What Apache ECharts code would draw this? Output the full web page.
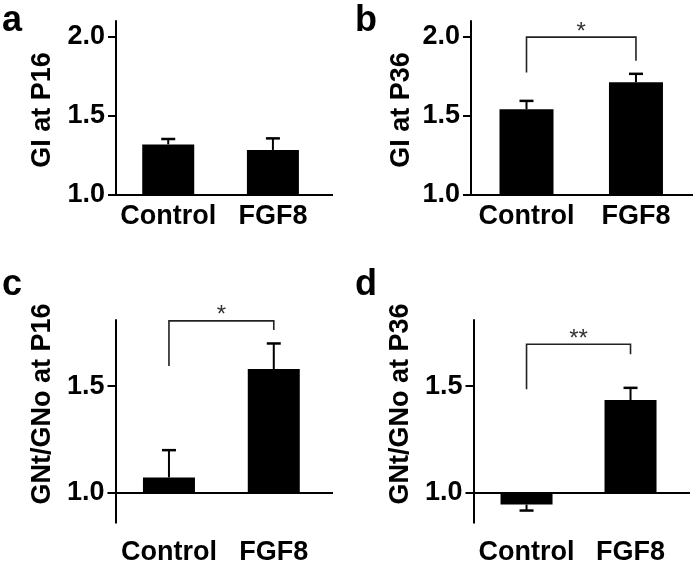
<!DOCTYPE html>
<html>
<head>
<meta charset="utf-8">
<script src="https://cdn.jsdelivr.net/npm/echarts@6/dist/echarts.min.js"></script>
<style>
html,body{margin:0;padding:0;background:#fff;}
#chart{width:697px;height:566px;}
</style>
</head>
<body>
<div id="chart"></div>
<script>
// ---- data ----
const categories = ['Control', 'FGF8'];
const giP16 = [1.32, 1.285];
const giP16Err = [0.034, 0.073];
const giP36 = [1.542, 1.713];
const giP36Err = [0.053, 0.053];
const gnP16 = [1.072, 1.58];
const gnP16Err = [0.128, 0.12];
const gnP36 = [0.945, 1.435];
const gnP36Err = [0.028, 0.057];
const ticksGI = [1.0, 1.5, 2.0];
const ticksGN = [1.0, 1.5];
// bracket: [control end, FGF8 end, top]
const bracketB = [1.774, 1.848, 1.998];
const bracketC = [1.594, 1.763, 1.806];
const bracketD = [1.485, 1.649, 1.696];
const starsB = '*';
const starsC = '*';
const starsD = '**';
const BASE = 1.0;

const FONT = '"Liberation Sans", Arial, Helvetica, sans-serif';
const FS = 27;

const panels = [
  {letter:'a', title:'GI at P16', vals:giP16, errs:giP16Err, ticks:ticksGI, ymin:1.0, ymax:2.1,
   grid:{left:116, top:21, width:217, height:174}, xmin:-0.499, xmax:1.574, bw:52, bracket:null,
   lx:2, ly:3, tx:43, ty:110, labelMargin:8},
  {letter:'b', title:'GI at P36', vals:giP36, errs:giP36Err, ticks:ticksGI, ymin:1.0, ymax:2.1,
   grid:{left:471, top:21, width:222, height:174}, xmin:-0.507, xmax:1.521, bw:54, bracket:bracketB, stars:starsB,
   lx:355, ly:3, tx:402, ty:110, labelMargin:8},
  {letter:'c', title:'GNt/GNo at P16', vals:gnP16, errs:gnP16Err, ticks:ticksGN, ymin:0.86, ymax:1.81,
   grid:{left:115.5, top:320, width:217.5, height:202.7}, xmin:-0.51, xmax:1.565, bw:52, bracket:bracketC, stars:starsC,
   lx:2, ly:267, tx:43, ty:404, labelMargin:16},
  {letter:'d', title:'GNt/GNo at P36', vals:gnP36, errs:gnP36Err, ticks:ticksGN, ymin:0.86, ymax:1.81,
   grid:{left:473.5, top:320, width:216.5, height:202.7}, xmin:-0.51, xmax:1.572, bw:52, bracket:bracketD, stars:starsD,
   lx:355, ly:267, tx:401, ty:404, labelMargin:16}
];

const grids = [], xAxes = [], yAxes = [], series = [], graphics = [];

panels.forEach(function (p, k) {
  grids.push(Object.assign({containLabel:false}, p.grid));
  xAxes.push({
    type:'value', gridIndex:k, min:p.xmin, max:p.xmax,
    axisLine:{show:false, onZero:false}, axisTick:{show:false}, splitLine:{show:false},
    axisLabel:{
      customValues:[0, 1],
      formatter:function (v) { return categories[Math.round(v)]; },
      color:'#000', fontFamily:FONT, fontWeight:'bold', fontSize:FS, margin:p.labelMargin
    }
  });
  yAxes.push({
    type:'value', gridIndex:k, min:p.ymin, max:p.ymax, position:'left',
    axisLine:{show:true, onZero:false, lineStyle:{color:'#000', width:2}},
    axisTick:{show:true, customValues:p.ticks, length:8, lineStyle:{color:'#000', width:2}},
    splitLine:{show:false},
    axisLabel:{
      customValues:p.ticks,
      formatter:function (v) { return v.toFixed(1); },
      color:'#000', fontFamily:FONT, fontWeight:'bold', fontSize:FS, margin:11
    }
  });
  const bw = p.bw;
  series.push({
    type:'custom', xAxisIndex:k, yAxisIndex:k, silent:true, animation:false,
    data: categories.map(function (c, i) { return [i, p.vals[i], p.errs[i]]; }),
    renderItem: function (params, api) {
      const i = api.value(0), v = api.value(1), e = api.value(2);
      const p0 = api.coord([i, BASE]);
      const p1 = api.coord([i, v]);
      const dir = v >= BASE ? 1 : -1;
      const pe = api.coord([i, v + dir * e]);
      return {
        type:'group',
        children:[
          {type:'line', shape:{x1:p1[0], y1:p1[1], x2:pe[0], y2:pe[1]}, style:{stroke:'#000', lineWidth:2}},
          {type:'line', shape:{x1:pe[0]-7, y1:pe[1], x2:pe[0]+7, y2:pe[1]}, style:{stroke:'#000', lineWidth:2.5}},
          {type:'rect', shape:{x:p0[0]-bw/2, y:Math.min(p0[1], p1[1]), width:bw, height:Math.abs(p1[1]-p0[1])},
           style:{fill:'#000'}}
        ]
      };
    },
    markLine:{
      silent:true, symbol:'none', animation:false,
      label:{show:false},
      lineStyle:{color:'#000', width:2, type:'solid'},
      data:[{yAxis:BASE}]
    },
    z:2
  });
  if (p.bracket) {
    const br = p.bracket, stars = p.stars;
    series.push({
      type:'custom', xAxisIndex:k, yAxisIndex:k, silent:true, animation:false,
      data:[[0, br[0], 1, br[1], br[2]]],
      renderItem: function (params, api) {
        const a0 = api.coord([api.value(0), api.value(1)]);
        const a1 = api.coord([api.value(0), api.value(4)]);
        const b1 = api.coord([api.value(2), api.value(4)]);
        const b0 = api.coord([api.value(2), api.value(3)]);
        return {
          type:'group',
          children:[
            {type:'polyline', shape:{points:[a0, a1, b1, b0]}, style:{stroke:'#222', lineWidth:1.6, fill:null}},
            {type:'text', x:(a1[0]+b1[0])/2, y:a1[1]-5,
             style:{text:stars, fill:'#333', font:'normal 24px ' + FONT, align:'center', verticalAlign:'middle'}}
          ]
        };
      },
      z:3
    });
  }
  graphics.push({type:'text', left:p.lx, top:p.ly,
    style:{text:p.letter, fill:'#000', font:'bold 36px ' + FONT}});
  graphics.push({type:'text', x:p.tx, y:p.ty, rotation:Math.PI/2,
    style:{text:p.title, fill:'#000', font:'bold 27px ' + FONT,
      align:'center', verticalAlign:'middle'}});
});

const chart = echarts.init(document.getElementById('chart'), null, {renderer:'canvas'});
chart.setOption({
  animation:false,
  backgroundColor:'#fff',
  grid:grids, xAxis:xAxes, yAxis:yAxes, series:series,
  graphic:graphics
});
</script>
</body>
</html>
